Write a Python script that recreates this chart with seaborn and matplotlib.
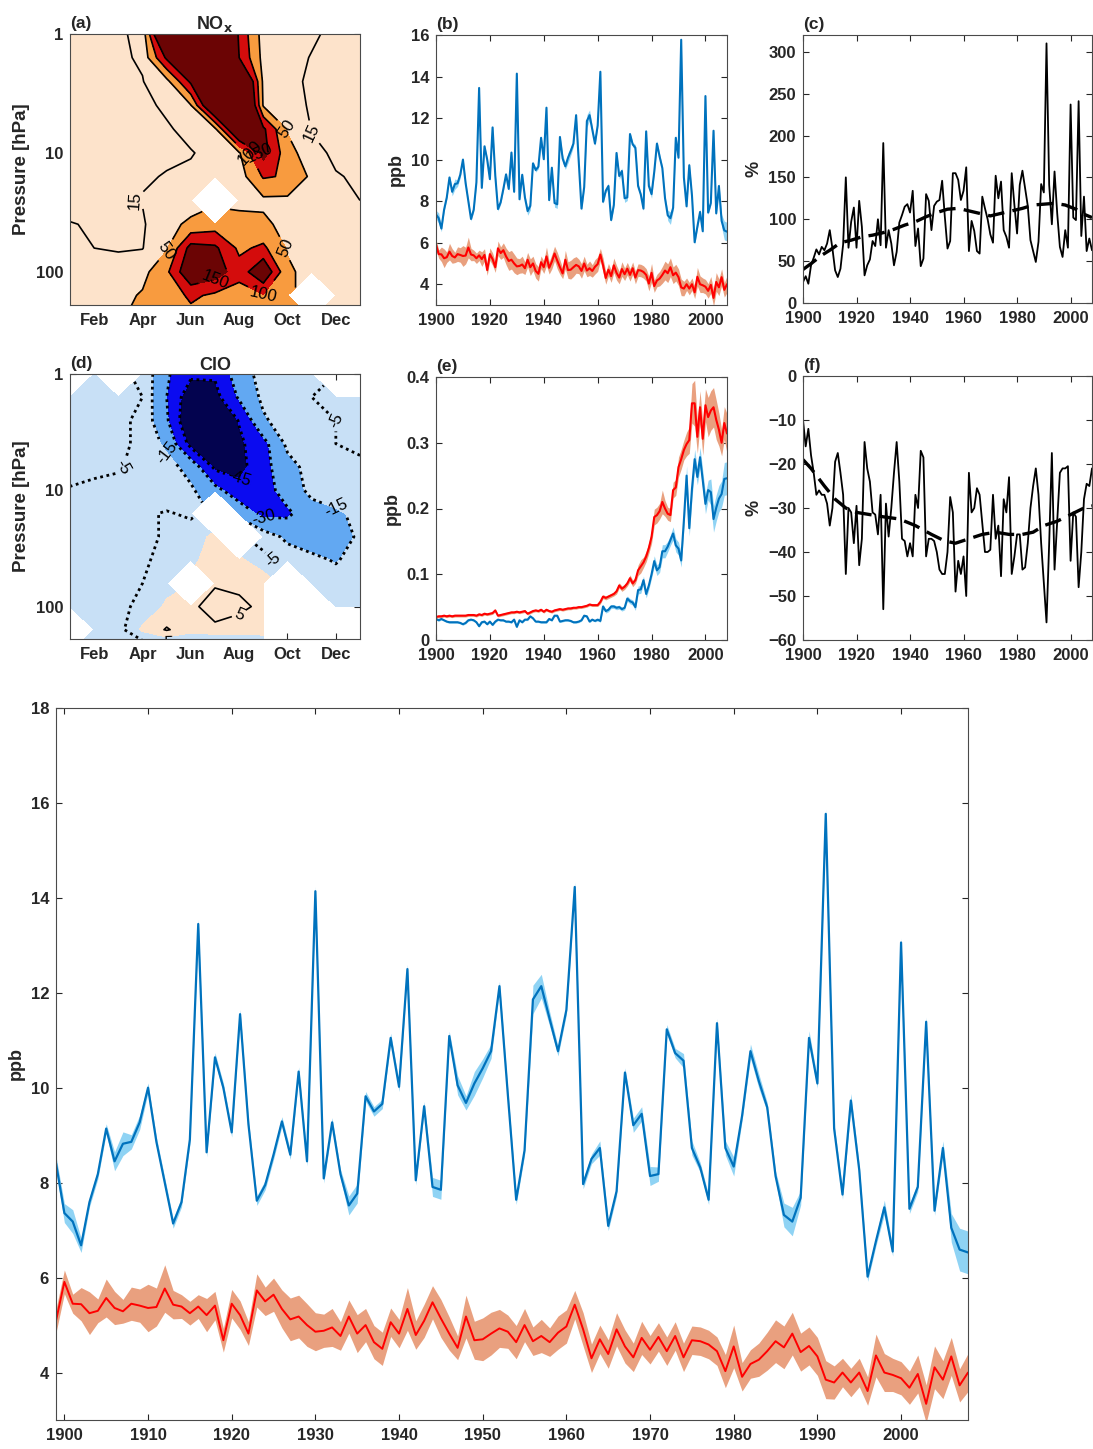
import numpy as np
import matplotlib
matplotlib.use("Agg")
import matplotlib.pyplot as plt
import seaborn as sns

# ---------------- data ----------------
years_long = list(range(1899, 2009))   # bottom panel / (b)
years = list(range(1900, 2009))        # (c), (e), (f)

# NOx (ppb), blue and red ensembles with band half-widths
nox_blue = [8.41, 7.36, 7.18, 6.68, 7.59, 8.18, 9.14, 8.45, 8.82, 8.86, 9.27,
            10.0, 8.86, 8.0, 7.14, 7.59, 8.91, 13.45, 8.64, 10.64, 10.0,
            9.06, 11.55, 9.23, 7.62, 7.95, 8.59, 9.29, 8.59, 10.34, 8.45,
            14.14, 8.09, 9.27, 8.18, 7.52, 7.77, 9.82, 9.5, 9.66, 11.05,
            10.02, 12.5, 8.05, 9.61, 7.91, 7.85, 11.09, 10.05, 9.68, 10.09,
            10.41, 10.77, 12.14, 9.86, 7.64, 8.68, 11.86, 12.14, 11.45, 10.77,
            11.64, 14.23, 7.97, 8.5, 8.73, 7.09, 7.82, 10.32, 9.21, 9.45,
            8.14, 8.18, 11.23, 10.73, 10.57, 8.73, 8.32, 7.64, 11.36, 8.73,
            8.34, 9.41, 10.77, 10.14, 9.59, 8.14, 7.32, 7.18, 7.68, 11.05,
            10.09, 15.77, 9.14, 7.75, 9.73, 8.27, 6.02, 6.77, 7.48, 6.55,
            13.06, 7.45, 7.91, 11.39, 7.41, 8.73, 7.05, 6.59, 6.53]
nox_blue_err = [0.15, 0.2, 0.25, 0.15, 0.1, 0.1, 0.1, 0.2, 0.25, 0.15, 0.15,
                0.1, 0.1, 0.1, 0.1, 0.1, 0.1, 0.1, 0.1, 0.1, 0.1,
                0.1, 0.1, 0.1, 0.1, 0.1, 0.1, 0.1, 0.1, 0.1, 0.1,
                0.1, 0.1, 0.1, 0.1, 0.2, 0.2, 0.1, 0.1, 0.1, 0.1,
                0.1, 0.1, 0.1, 0.1, 0.2, 0.2, 0.1, 0.2, 0.15, 0.25,
                0.2, 0.15, 0.1, 0.1, 0.1, 0.1, 0.3, 0.25, 0.15, 0.1,
                0.1, 0.1, 0.1, 0.1, 0.15, 0.1, 0.1, 0.1, 0.15, 0.15,
                0.2, 0.15, 0.1, 0.1, 0.15, 0.15, 0.1, 0.1, 0.1, 0.15,
                0.2, 0.1, 0.15, 0.15, 0.1, 0.1, 0.25, 0.3, 0.15, 0.15,
                0.1, 0.1, 0.1, 0.1, 0.15, 0.1, 0.1, 0.1, 0.15, 0.1,
                0.1, 0.1, 0.1, 0.1, 0.1, 0.15, 0.3, 0.45, 0.45]
nox_red = [5.09, 5.91, 5.45, 5.44, 5.25, 5.3, 5.57, 5.36, 5.29, 5.45, 5.41,
           5.36, 5.38, 5.77, 5.43, 5.39, 5.25, 5.39, 5.21, 5.41, 4.68,
           5.45, 5.21, 4.82, 5.73, 5.5, 5.64, 5.34, 5.12, 5.18, 5.0,
           4.86, 4.88, 4.95, 4.77, 5.18, 4.82, 5.0, 4.64, 4.5, 5.06,
           4.82, 5.34, 4.79, 5.09, 5.48, 5.14, 4.82, 4.52, 5.18, 4.68,
           4.7, 4.82, 4.93, 4.86, 4.64, 5.0, 4.66, 4.77, 4.64, 4.84,
           4.97, 5.43, 4.91, 4.3, 4.7, 4.39, 4.91, 4.55, 4.32, 4.73,
           4.48, 4.75, 4.45, 4.77, 4.32, 4.68, 4.66, 4.59, 4.45, 4.03,
           4.55, 3.91, 4.18, 4.27, 4.45, 4.66, 4.53, 4.82, 4.43, 4.56,
           4.34, 3.85, 3.79, 4.0, 3.79, 4.0, 3.61, 4.36, 4.0, 3.95,
           3.88, 3.68, 3.97, 3.34, 4.11, 3.85, 4.34, 3.73, 4.0]
nox_red_err = [0.25, 0.25, 0.2, 0.35, 0.45, 0.25, 0.4, 0.35, 0.25, 0.35, 0.35,
               0.5, 0.4, 0.5, 0.3, 0.25, 0.25, 0.25, 0.35, 0.3, 0.25,
               0.3, 0.3, 0.25, 0.35, 0.3, 0.35, 0.4, 0.45, 0.45, 0.45,
               0.4, 0.35, 0.4, 0.3, 0.35, 0.4, 0.35, 0.35, 0.35, 0.3,
               0.3, 0.45, 0.3, 0.35, 0.35, 0.4, 0.35, 0.25, 0.45, 0.4,
               0.45, 0.45, 0.4, 0.35, 0.35, 0.35, 0.3, 0.35, 0.3, 0.35,
               0.35, 0.3, 0.35, 0.3, 0.3, 0.3, 0.35, 0.35, 0.3, 0.35,
               0.3, 0.3, 0.3, 0.3, 0.3, 0.3, 0.3, 0.3, 0.3, 0.35,
               0.45, 0.3, 0.3, 0.35, 0.4, 0.45, 0.45, 0.45, 0.4, 0.4,
               0.4, 0.4, 0.35, 0.3, 0.3, 0.3, 0.3, 0.45, 0.4, 0.35,
               0.35, 0.35, 0.4, 0.4, 0.45, 0.4, 0.4, 0.35, 0.4]

# (c) NOx relative difference (%) and its dashed trend
nox_pct = [25, 32, 23, 45, 54, 64, 58, 67, 63, 71,
           87, 65, 39, 31, 41, 70, 150, 66, 97, 114,
           66, 122, 91, 33, 45, 52, 74, 68, 100, 69,
           191, 66, 87, 71, 45, 61, 96, 105, 115, 118,
           108, 134, 68, 89, 44, 53, 130, 122, 87, 116,
           121, 123, 146, 103, 65, 74, 155, 155, 147, 123,
           134, 162, 62, 98, 86, 62, 59, 127, 113, 100,
           82, 72, 152, 125, 145, 87, 79, 66, 155, 117,
           83, 141, 158, 137, 116, 75, 62, 49, 73, 142,
           132, 310, 141, 94, 157, 107, 67, 55, 87, 66,
           237, 102, 99, 241, 80, 127, 62, 77, 63]
nox_trend_years = [1900, 1903, 1907, 1910, 1914, 1918, 1922, 1926, 1930, 1934,
                   1938, 1942, 1946, 1950, 1954, 1958, 1962, 1966, 1970, 1974,
                   1978, 1982, 1986, 1990, 1994, 1998, 2002, 2005, 2008]
nox_trend = [40, 47, 57, 63, 72, 75, 79, 81, 84, 88, 93, 97, 103, 108, 112,
             113, 110, 107, 104, 107, 110, 113, 117, 118, 119, 117, 112, 106, 102]

# (e) ClO (ppb)
clo_red = [0.035, 0.036, 0.036, 0.037, 0.036, 0.037, 0.036, 0.037, 0.037, 0.037,
           0.037, 0.037, 0.038, 0.038, 0.038, 0.037, 0.039, 0.038, 0.040, 0.039,
           0.040, 0.041, 0.045, 0.037, 0.038, 0.039, 0.040, 0.041, 0.042, 0.042,
           0.043, 0.042, 0.043, 0.044, 0.040, 0.042, 0.044, 0.045, 0.044, 0.046,
           0.043, 0.046, 0.044, 0.043, 0.045, 0.046, 0.047, 0.046, 0.047, 0.048,
           0.048, 0.049, 0.049, 0.050, 0.050, 0.051, 0.052, 0.054, 0.053, 0.053,
           0.053, 0.058, 0.066, 0.064, 0.066, 0.068, 0.070, 0.074, 0.083, 0.078,
           0.081, 0.086, 0.094, 0.086, 0.091, 0.106, 0.112, 0.118, 0.127, 0.140,
           0.157, 0.187, 0.190, 0.196, 0.210, 0.200, 0.192, 0.190, 0.228, 0.232,
           0.263, 0.275, 0.289, 0.298, 0.304, 0.360, 0.360, 0.309, 0.354, 0.306,
           0.357, 0.339, 0.349, 0.354, 0.335, 0.320, 0.300, 0.330, 0.314]
clo_red_err = [0.002, 0.002, 0.002, 0.002, 0.002, 0.002, 0.002, 0.002, 0.002, 0.002,
               0.002, 0.002, 0.002, 0.002, 0.002, 0.002, 0.002, 0.002, 0.002, 0.002,
               0.002, 0.002, 0.002, 0.002, 0.002, 0.002, 0.002, 0.002, 0.002, 0.002,
               0.002, 0.002, 0.002, 0.002, 0.002, 0.002, 0.002, 0.002, 0.002, 0.002,
               0.002, 0.002, 0.002, 0.002, 0.002, 0.002, 0.002, 0.002, 0.002, 0.002,
               0.002, 0.002, 0.002, 0.002, 0.002, 0.002, 0.002, 0.002, 0.002, 0.002,
               0.002, 0.003, 0.003, 0.003, 0.003, 0.003, 0.003, 0.004, 0.004, 0.004,
               0.004, 0.004, 0.005, 0.005, 0.005, 0.008, 0.010, 0.008, 0.008, 0.008,
               0.010, 0.012, 0.012, 0.012, 0.018, 0.012, 0.010, 0.010, 0.012, 0.012,
               0.015, 0.015, 0.015, 0.018, 0.020, 0.030, 0.035, 0.025, 0.025, 0.025,
               0.025, 0.030, 0.030, 0.030, 0.030, 0.025, 0.020, 0.025, 0.030]
clo_blue = [0.032, 0.030, 0.032, 0.030, 0.028, 0.027, 0.027, 0.027, 0.027, 0.026,
            0.024, 0.026, 0.030, 0.031, 0.030, 0.027, 0.021, 0.027, 0.028, 0.024,
            0.028, 0.023, 0.028, 0.031, 0.030, 0.030, 0.028, 0.028, 0.027, 0.031,
            0.020, 0.030, 0.027, 0.031, 0.031, 0.036, 0.033, 0.028, 0.028, 0.027,
            0.027, 0.027, 0.032, 0.030, 0.037, 0.037, 0.028, 0.029, 0.030, 0.030,
            0.029, 0.027, 0.027, 0.028, 0.030, 0.037, 0.036, 0.028, 0.031, 0.029,
            0.031, 0.029, 0.051, 0.044, 0.046, 0.051, 0.051, 0.049, 0.050, 0.047,
            0.049, 0.063, 0.059, 0.057, 0.050, 0.076, 0.077, 0.091, 0.070, 0.083,
            0.100, 0.120, 0.106, 0.111, 0.135, 0.135, 0.142, 0.152, 0.162, 0.144,
            0.139, 0.121, 0.182, 0.250, 0.170, 0.230, 0.275, 0.248, 0.278, 0.243,
            0.207, 0.228, 0.225, 0.184, 0.201, 0.215, 0.222, 0.245, 0.246]
clo_blue_err = [0.0015, 0.0015, 0.0015, 0.0015, 0.0015, 0.0015, 0.0015, 0.0015, 0.0015, 0.0015,
                0.0015, 0.0015, 0.0015, 0.0015, 0.0015, 0.0015, 0.0015, 0.0015, 0.0015, 0.0015,
                0.0015, 0.0015, 0.0015, 0.0015, 0.0015, 0.0015, 0.0015, 0.0015, 0.0015, 0.0015,
                0.0015, 0.0015, 0.0015, 0.0015, 0.0015, 0.0015, 0.0015, 0.0015, 0.0015, 0.0015,
                0.0015, 0.0015, 0.0015, 0.0015, 0.0015, 0.0015, 0.0015, 0.0015, 0.0015, 0.0015,
                0.0015, 0.0015, 0.0015, 0.0015, 0.0015, 0.0015, 0.0015, 0.0015, 0.0015, 0.0015,
                0.002, 0.002, 0.003, 0.003, 0.003, 0.003, 0.003, 0.003, 0.003, 0.003,
                0.003, 0.004, 0.004, 0.004, 0.005, 0.006, 0.006, 0.006, 0.006, 0.006,
                0.006, 0.008, 0.008, 0.008, 0.010, 0.010, 0.008, 0.008, 0.010, 0.010,
                0.010, 0.010, 0.012, 0.015, 0.012, 0.015, 0.015, 0.012, 0.015, 0.015,
                0.015, 0.015, 0.020, 0.020, 0.020, 0.020, 0.020, 0.025, 0.025]

# (f) ClO relative difference (%) and its dashed trend
clo_pct = [-10, -16, -12, -18, -22, -27, -26, -27, -27, -29,
           -34, -30, -19.5, -17.5, -22, -27, -45, -30, -31, -38,
           -29.5, -43, -37, -15, -21, -24, -31, -31.5, -36, -27,
           -53, -29, -36.5, -30, -22, -15, -24, -37, -37.5, -41,
           -38, -41, -27, -30, -17, -18.5, -41, -37, -37, -37.5,
           -40, -44, -45, -45, -40, -27.5, -31, -49, -42, -45,
           -41, -50, -22, -31, -30, -25.5, -27, -33.5, -40, -40,
           -39.5, -27, -37, -34, -45.5, -28, -31, -23, -45, -41,
           -36, -36, -44, -43.5, -38, -30, -25, -21, -27, -38,
           -47, -56, -38, -17.5, -44, -33, -22, -21, -21, -20.5,
           -42, -31, -32, -48, -40, -28, -24.5, -25, -21]
clo_trend_years = [1900, 1903, 1908, 1912, 1916, 1920, 1925, 1930, 1936, 1942,
                   1948, 1953, 1957, 1962, 1967, 1972, 1977, 1982, 1986, 1990,
                   1995, 2000, 2005, 2008]
clo_trend = [-19, -21, -25, -28, -30, -31, -31.5, -32, -32.5, -34, -36, -37.5,
             -38, -37, -36, -35.5, -36, -36, -35.5, -34, -33, -31.5, -30, -29.5]

# (a), (d) month x pressure maps (%), NaN = not significant
months = [1, 2, 3, 4, 5, 6, 7, 8, 9, 10, 11, 12, 13]
month_ticks = [2, 4, 6, 8, 10, 12]
month_labels = ['Feb', 'Apr', 'Jun', 'Aug', 'Oct', 'Dec']
pressure = [1, 1.58, 2.51, 3.98, 6.31, 10, 15.8, 25.1, 39.8, 63.1, 100, 158, 251]
nan = np.nan
nox_grid = [
    [5, 8, 12, 20, 300, 400, 350, 140, 30, 28, 18, 10, 8],
    [5, 7, 11, 18, 160, 400, 380, 150, 35, 22, 14, 9, 7],
    [5, 8, 10, 14, 35, 160, 400, 300, 40, 20, 12, 8, 6],
    [5, 7, 9, 11, 18, 48, 250, 350, 45, 22, 13, 8, 6],
    [6, 8, 10, 11, 13, 20, 40, 250, 160, 45, 14, 9, 7],
    [5, 7, 9, 11, 12, 14, 20, 45, 170, 70, 20, 12, 10],
    [6, 8, 10, 13, 16, 18, 22, 28, 105, 95, 40, 16, 13],
    [7, 9, 13, 16, 20, 28, nan, 35, 40, 40, 28, 20, 15],
    [16, 13, 12, 12, 35, 60, 75, 70, 60, 35, 25, 20, 17],
    [18, 15, 13, 14, 45, 170, 160, 90, 110, 45, 25, 20, 18],
    [20, 22, 25, 35, 90, 200, 180, 120, 200, 60, 30, 20, 18],
    [18, 22, 35, 55, 70, 110, 90, 75, 95, 60, nan, 30, 20],
    [15, 25, 45, 65, 70, 80, 70, 65, 65, 60, 55, 40, 20],
]
clo_grid = [
    [nan, -3, nan, -5.5, -28, -42, -43, -22, -10, -8, -6, nan, nan],
    [-2, -3, -4, -5, -30, -55, -50, -28, -12, -6, -5, -4, -3],
    [-2, -3, -4, -6, -28, -60, -65, -44, -17, -8, -6, -5, -4],
    [-3, -3, -4, -6, -18, -50, -60, -48, -35, -12, -6, -5, -4],
    [-4, -4, -4.5, -7, -10, -20, -48, -50, -35, -20, -10, -7, -6],
    [-5.2, -6, -6.5, -7, -9, -13, -25, -40, -38, -22, -12, -8, -7],
    [-7, -7, -7, -6, -4.5, -6, nan, -20, -35, -33, -20, -17, -12],
    [-8, -8, -8, -7, -4, -2, 1, nan, -8, -18, -22, -18, -14],
    [-8, -8, -8, -6, -3, -1, 2, 1, -3, -8, -12, -16, -10],
    [-8, -8, -7, -5, -2, nan, 4, 4, 3, nan, -6, -10, -8],
    [-7, -7, -6, -4, 1, 3, 9, 6, 4, nan, nan, -7, -7],
    [nan, -8, -7, 1, 5.5, 2, 3, 3, 3, nan, nan, nan, nan],
    [-8, -8, -10, -12, -12, -12, -12, -12, -10, nan, nan, nan, nan],
]

# ---------------- style ----------------
sns.set_style("ticks")
plt.rcParams['font.family'] = ['Liberation Sans', 'DejaVu Sans']

BLUE = '#0072BD'
BLUE_FILL = '#8fd3f4'
RED = '#ff0000'
RED_FILL = '#e9a07f'
SPINE = '#4a4a4a'
W, H = 1093, 1449

fig = plt.figure(figsize=(W / 100, H / 100), dpi=100)


def px_axes(left, top, right, bottom):
    return fig.add_axes([left / W, 1 - bottom / H, (right - left) / W, (bottom - top) / H])


def style_axes(ax, size=12):
    for s in ax.spines.values():
        s.set_color(SPINE)
        s.set_linewidth(0.8)
    ax.tick_params(direction='in', top=True, right=True, length=4, width=0.8,
                   labelsize=size, colors='#262626')
    ax.tick_params(axis='x', pad=6)
    ax.tick_params(axis='y', pad=5)
    ax.tick_params(which='minor', direction='in', top=True, right=True, length=2, width=0.6)
    for lbl in ax.get_xticklabels() + ax.get_yticklabels():
        lbl.set_fontweight('bold')


def band_line(ax, x, y, err, color, fill, lw):
    y = np.asarray(y, dtype=float)
    err = np.asarray(err, dtype=float)
    ax.fill_between(x, y - err, y + err, color=fill, lw=0)
    sns.lineplot(x=x, y=y, ax=ax, color=color, linewidth=lw)


def map_panel(ax, grid, fill_levels, fill_colors, line_sets):
    z = np.ma.masked_invalid(np.array(grid, dtype=float))
    logp = np.log10(pressure)
    ax.contourf(months, logp, z, levels=fill_levels, colors=fill_colors, corner_mask=True)
    for lev, ls, lw in line_sets:
        cs = ax.contour(months, logp, z, levels=lev, colors='k', linestyles=ls,
                        linewidths=lw, corner_mask=True)
        ax.clabel(cs, fmt='%d', fontsize=12, inline=True, inline_spacing=3)
    ax.set_xlim(1, 13)
    ax.set_ylim(np.log10(190), 0)
    ax.set_xticks(month_ticks)
    ax.set_xticklabels(month_labels)
    ax.set_yticks([0, 1, 2])
    ax.set_yticklabels(['1', '10', '100'])
    minor = [np.log10(v) for v in [2, 3, 4, 5, 6, 7, 8, 9, 20, 30, 40, 50, 60, 70, 80, 90]]
    ax.set_yticks(minor, minor=True)
    ax.set_ylabel('Pressure [hPa]', fontsize=13.5, fontweight='bold')
    ax.set_facecolor('white')
    style_axes(ax)


def panel_tag(ax, tag, title=None):
    ax.text(0.0, 1.01, tag, transform=ax.transAxes, fontsize=12.5, fontweight='bold',
            ha='left', va='bottom')
    if title:
        ax.set_title(title, fontsize=13, fontweight='bold', pad=2)


# ---------------- (a) NOx map ----------------
ax_a = px_axes(70, 34, 360, 305)
map_panel(ax_a, nox_grid, [-100, 50, 100, 150, 1000],
          ['#fde3cb', '#f89b3f', '#d40c0c', '#6b0404'],
          [([15, 50, 100, 150], 'solid', 1.2)])
panel_tag(ax_a, '(a)', 'NO$_\\mathbf{x}$')

# ---------------- (d) ClO map ----------------
ax_d = px_axes(70, 374, 360, 639)
map_panel(ax_d, clo_grid, [-1000, -45, -30, -15, 0, 1000],
          ['#03034f', '#0b0bf0', '#62a8f2', '#c8e0f6', '#fde3cb'],
          [([-45, -30, -15, -5], [(0, (1, 1.3))], 2.0), ([5], 'solid', 1.2)])
panel_tag(ax_d, '(d)', 'ClO')

# ---------------- (b) NOx time series ----------------
ax_b = px_axes(436, 35, 727, 305)
band_line(ax_b, years_long, nox_red, nox_red_err, RED, RED_FILL, 1.5)
band_line(ax_b, years_long, nox_blue, nox_blue_err, BLUE, BLUE_FILL, 1.5)
ax_b.set_xlim(1900, 2008)
ax_b.set_ylim(3, 16)
ax_b.set_xticks(range(1900, 2001, 20))
ax_b.set_yticks(range(4, 17, 2))
ax_b.set_ylabel('ppb', fontsize=13, fontweight='bold')
style_axes(ax_b)
panel_tag(ax_b, '(b)')

# ---------------- (c) NOx % ----------------
ax_c = px_axes(803, 35, 1092, 303)
sns.lineplot(x=years, y=nox_pct, ax=ax_c, color='k', linewidth=1.3)
sns.lineplot(x=nox_trend_years, y=nox_trend, ax=ax_c, color='k', linewidth=2.4,
             linestyle=(0, (5, 2.5)))
ax_c.set_xlim(1900, 2008)
ax_c.set_ylim(0, 320)
ax_c.set_xticks(range(1900, 2001, 20))
ax_c.set_yticks(range(0, 301, 50))
ax_c.set_ylabel('%', fontsize=13, fontweight='bold')
style_axes(ax_c)
panel_tag(ax_c, '(c)')

# ---------------- (e) ClO time series ----------------
ax_e = px_axes(436, 377, 727, 640)
band_line(ax_e, years, clo_red, clo_red_err, RED, RED_FILL, 1.5)
band_line(ax_e, years, clo_blue, clo_blue_err, BLUE, BLUE_FILL, 1.5)
ax_e.set_xlim(1900, 2008)
ax_e.set_ylim(0, 0.4)
ax_e.set_xticks(range(1900, 2001, 20))
ax_e.set_yticks([0, 0.1, 0.2, 0.3, 0.4])
ax_e.set_yticklabels(['0', '0.1', '0.2', '0.3', '0.4'])
ax_e.set_ylabel('ppb', fontsize=13, fontweight='bold')
style_axes(ax_e)
panel_tag(ax_e, '(e)')

# ---------------- (f) ClO % ----------------
ax_f = px_axes(803, 376, 1092, 640)
sns.lineplot(x=years, y=clo_pct, ax=ax_f, color='k', linewidth=1.3)
sns.lineplot(x=clo_trend_years, y=clo_trend, ax=ax_f, color='k', linewidth=2.4,
             linestyle=(0, (5, 2.5)))
ax_f.set_xlim(1900, 2008)
ax_f.set_ylim(-60, 0)
ax_f.set_xticks(range(1900, 2001, 20))
ax_f.set_yticks(range(-60, 1, 10))
ax_f.set_ylabel('%', fontsize=13, fontweight='bold')
style_axes(ax_f)
panel_tag(ax_f, '(f)')

# ---------------- bottom: enlarged NOx series ----------------
ax_g = px_axes(56, 708, 968, 1420)
band_line(ax_g, years_long, nox_red, nox_red_err, RED, RED_FILL, 1.4)
band_line(ax_g, years_long, nox_blue, nox_blue_err, BLUE, BLUE_FILL, 1.6)
ax_g.set_xlim(1899, 2008)
ax_g.set_ylim(3, 18)
ax_g.set_xticks(range(1900, 2001, 10))
ax_g.set_yticks(range(4, 19, 2))
ax_g.set_ylabel('ppb', fontsize=13, fontweight='bold')
style_axes(ax_g)

fig.savefig('out.png', dpi=100)
